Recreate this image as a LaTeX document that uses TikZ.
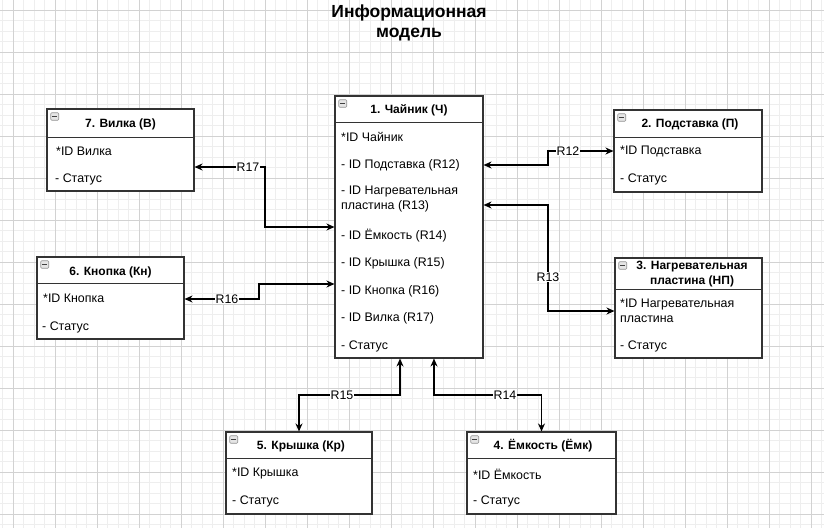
\documentclass[tikz,border=0pt]{standalone}
\usepackage{fontspec}
\setmainfont{Liberation Sans}
\usetikzlibrary{arrows.meta,calc}
\definecolor{gmaj}{HTML}{D2D2D2}
\definecolor{gmin}{HTML}{EEEEEE}
\definecolor{edgec}{HTML}{333333}
\tikzset{
 ent/.style={draw=edgec, line width=1.1pt, fill=white, inner sep=0pt, rectangle},
 sepline/.style={draw=edgec, line width=1.1pt},
 hdr/.style={font=\bfseries\fontsize{12}{15}\selectfont, inner sep=0pt, align=center},
 rowtxt/.style={font=\fontsize{12.4}{15}\selectfont, anchor=west, inner sep=0pt, align=left},
 rel/.style={draw=black, line width=1.1pt, {Stealth[length=8pt,width=7pt]}-{Stealth[length=8pt,width=7pt]}},
 lbl/.style={font=\fontsize{12.4}{14}\selectfont, fill=white, inner sep=0.6pt},
 icon/.style={draw=gray!85, fill=gray!20, rounded corners=1pt, line width=0.6pt, minimum width=8pt, minimum height=7.5pt, inner sep=0pt},
 minus/.style={draw=black!75, line width=0.9pt},
}
\begin{document}
\begin{tikzpicture}[x=1pt,y=-1pt]
\useasboundingbox (0,0) rectangle (824,528);
\fill[white] (0,0) rectangle (824,528);
% grid
\foreach \i in {0,...,78} {\draw[gmin, line width=0.8pt] ({2.8+10.5*\i},0) -- ({2.8+10.5*\i},528);}
\foreach \i in {0,...,50} {\draw[gmin, line width=0.8pt] (0,{-0.5+10.5*\i}) -- (824,{-0.5+10.5*\i});}
\foreach \i in {0,...,19} {\draw[gmaj, line width=0.8pt] ({13.3+42*\i},0) -- ({13.3+42*\i},528);}
\foreach \i in {0,...,12} {\draw[gmaj, line width=0.8pt] (0,{10+42*\i}) -- (824,{10+42*\i});}

% title
\node[font=\bfseries\fontsize{17.5}{20}\selectfont, align=center, inner sep=0pt] (title) at (409,23) {Информационная\\модель};

% ---------- entities ----------
% main
\node[ent, minimum width=148, minimum height=262] (main) at (409,227) {};
\draw[sepline] ($(main.north west)+(0,27)$) -- ($(main.north east)+(0,27)$);
\node[icon, anchor=north west] (mainI) at ($(main.north west)+(4,4)$) {};
\draw[minus] ($(mainI.center)+(-2.5,0)$) -- ($(mainI.center)+(2.5,0)$);
\node[hdr] (mainT) at (409,110) {1. Чайник (Ч)};
\node[rowtxt] (m1) at (341,137) {*ID Чайник};
\node[rowtxt] (m2) at (341,165) {- ID Подставка (R12)};
\node[rowtxt] (m3) at (341,199.5) {- ID Нагревательная\\пластина (R13)};
\node[rowtxt] (m4) at (341,236) {- ID Ёмкость (R14)};
\node[rowtxt] (m5) at (341,263) {- ID Крышка (R15)};
\node[rowtxt] (m6) at (341,291) {- ID Кнопка (R16)};
\node[rowtxt] (m7) at (341,318) {- ID Вилка (R17)};
\node[rowtxt] (m8) at (341,346) {- Статус};

% Вилка
\node[ent, minimum width=147, minimum height=82] (vil) at (120.5,150) {};
\draw[sepline] ($(vil.north west)+(0,29)$) -- ($(vil.north east)+(0,29)$);
\node[icon, anchor=north west] (vilI) at ($(vil.north west)+(4,4)$) {};
\draw[minus] ($(vilI.center)+(-2.5,0)$) -- ($(vilI.center)+(2.5,0)$);
\node[hdr] (vilT) at (120.5,124) {7. Вилка (В)};
\node[rowtxt] (v1) at (56,151) {*ID Вилка};
\node[rowtxt] (v2) at (55,179) {- Статус};

% Кнопка
\node[ent, minimum width=147, minimum height=82] (kn) at (110.5,298) {};
\draw[sepline] ($(kn.north west)+(0,27)$) -- ($(kn.north east)+(0,27)$);
\node[icon, anchor=north west] (knI) at ($(kn.north west)+(4,4)$) {};
\draw[minus] ($(knI.center)+(-2.5,0)$) -- ($(knI.center)+(2.5,0)$);
\node[hdr] (knT) at (110.5,272) {6. Кнопка (Кн)};
\node[rowtxt] (k1) at (43,298) {*ID Кнопка};
\node[rowtxt] (k2) at (42,327) {- Статус};

% Подставка
\node[ent, minimum width=148, minimum height=82] (pod) at (688,151) {};
\draw[sepline] ($(pod.north west)+(0,28)$) -- ($(pod.north east)+(0,28)$);
\node[icon, anchor=north west] (podI) at ($(pod.north west)+(4,4)$) {};
\draw[minus] ($(podI.center)+(-2.5,0)$) -- ($(podI.center)+(2.5,0)$);
\node[hdr] (podT) at (690,124) {2. Подставка (П)};
\node[rowtxt] (p1) at (620,151) {*ID Подставка};
\node[rowtxt] (p2) at (620,179) {- Статус};

% Нагревательная пластина
\node[ent, minimum width=147, minimum height=100] (np) at (688.5,308) {};
\draw[sepline] ($(np.north west)+(0,32)$) -- ($(np.north east)+(0,32)$);
\node[icon, anchor=north west] (npI) at ($(np.north west)+(4,4)$) {};
\draw[minus] ($(npI.center)+(-2.5,0)$) -- ($(npI.center)+(2.5,0)$);
\node[hdr] (npT) at (692,274) {3. Нагревательная\\пластина (НП)};
\node[rowtxt] (n1) at (620,310.5) {*ID Нагревательная\\пластина};
\node[rowtxt] (n2) at (620,346) {- Статус};

% Крышка
\node[ent, minimum width=146, minimum height=82] (kr) at (299,473) {};
\draw[sepline] ($(kr.north west)+(0,27)$) -- ($(kr.north east)+(0,27)$);
\node[icon, anchor=north west] (krI) at ($(kr.north west)+(4,4)$) {};
\draw[minus] ($(krI.center)+(-2.5,0)$) -- ($(krI.center)+(2.5,0)$);
\node[hdr] (krT) at (301,446) {5. Крышка (Кр)};
\node[rowtxt] (r1) at (232,474) {*ID Крышка};
\node[rowtxt] (r2) at (232,501) {- Статус};

% Ёмкость
\node[ent, minimum width=149, minimum height=82] (emk) at (541.5,473) {};
\draw[sepline] ($(emk.north west)+(0,27)$) -- ($(emk.north east)+(0,27)$);
\node[icon, anchor=north west] (emkI) at ($(emk.north west)+(4,4)$) {};
\draw[minus] ($(emkI.center)+(-2.5,0)$) -- ($(emkI.center)+(2.5,0)$);
\node[hdr] (emkT) at (543,446) {4. Ёмкость (Ёмк)};
\node[rowtxt] (e1) at (473,474) {*ID Ёмкость};
\node[rowtxt] (e2) at (473,501) {- Статус};

% ---------- relations ----------
\draw[rel] (vil.east |- 0,167) -- (265,167) -- (265,227) -- (main.west |- 0,227);
\draw[rel] (kn.east |- 0,299) -- (259,299) -- (259,284) -- (main.west |- 0,284);
\draw[rel] (main.east |- 0,165) -- (548,165) -- (548,151) -- (pod.west |- 0,151);
\draw[rel] (main.east |- 0,205) -- (548,205) -- (548,311) -- (np.west |- 0,311);
\draw[rel] (main.south -| 400,0) -- (400,395) -- (299,395) -- (kr.north);
\draw[rel] (main.south -| 434,0) -- (434,395) -- (541.5,395) -- (emk.north);

\node[lbl] (l17) at (248,167) {R17};
\node[lbl] (l16) at (227,299) {R16};
\node[lbl] (l12) at (568,151) {R12};
\node[lbl] (l13) at (548,277) {R13};
\node[lbl] (l15) at (342,395) {R15};
\node[lbl] (l14) at (505,395) {R14};
\end{tikzpicture}
\end{document}
